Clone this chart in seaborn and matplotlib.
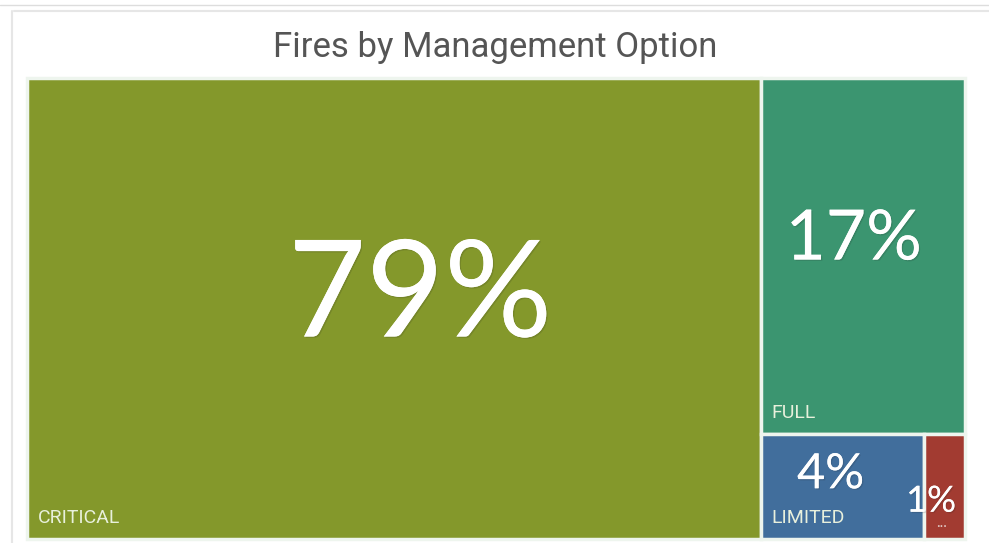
"""Treemap of fires by management option."""

import matplotlib.pyplot as plt
import matplotlib.patheffects as pe
from matplotlib.patches import Rectangle
import seaborn as sns

categories = ["CRITICAL", "FULL", "LIMITED", "..."]
shares = [79, 17, 4, 1]
colors = ["#84982b", "#3b9570", "#416e9c", "#a23b31"]

sns.set_theme(style="white")
plt.rcParams["font.family"] = ["Lato", "DejaVu Sans"]

fig = plt.figure(figsize=(9.89, 5.43), dpi=100)
ax = fig.add_axes([0, 0, 1, 1])
ax.set_xlim(0, 989)
ax.set_ylim(543, 0)
ax.axis("off")

# card frame lines
ax.plot([0, 989], [5, 5], color="#dddddd", lw=1)
ax.plot([14, 989], [11, 11], color="#e6e6e6", lw=1.5)
ax.plot([12, 12], [11, 543], color="#e6e6e6", lw=1.5)

ax.text(495, 57, "Fires by Management Option", ha="center", va="baseline",
        fontsize=25, color="#555555", family=["Roboto", "DejaVu Sans"])

# slice-and-dice layout from the values
x0, x1, y0, y1 = 27, 965, 78, 539
total = sum(shares)
split_x = x0 + (x1 - x0) * shares[0] / total
rest = sum(shares[1:])
split_y = y0 + (y1 - y0) * shares[1] / rest
split_x2 = split_x + (x1 - split_x) * shares[2] / (shares[2] + shares[3])

tiles = [
    (x0, y0, split_x, y1),
    (split_x, y0, x1, split_y),
    (split_x, split_y, split_x2, y1),
    (split_x2, split_y, x1, y1),
]

# value label positions relative to each tile's top-left corner
value_offsets = [(393, 220), (93, 162), (70, 40), (7, 67)]
big_sizes = [97, 50, 35, 26]

shadow = [pe.withSimplePatchShadow(offset=(1, -1), alpha=0.15, shadow_rgbFace="#222222"),
          pe.Normal()]

for (a, b, c, d), cat, val, col, fs, (dx, dy) in zip(
        tiles, categories, shares, colors, big_sizes, value_offsets):
    ax.add_patch(Rectangle((a, b), c - a, d - b, facecolor=col,
                           edgecolor="#eef5ee", lw=2.5))
    ax.text(a + dx, b + dy, f"{val}%", ha="center", va="center", fontsize=fs,
            color="white", path_effects=shadow)
    if cat == "...":
        ax.text(a + 17, d - 16, cat, ha="center", va="center", fontsize=11,
                color="#e0c8c4")
    else:
        ax.text(a + 11, d - 16, cat, ha="left", va="baseline", fontsize=14,
                color="#e8f0dc", family=["Roboto", "DejaVu Sans"])

fig.savefig("out.png", dpi=100)
plt.close(fig)
